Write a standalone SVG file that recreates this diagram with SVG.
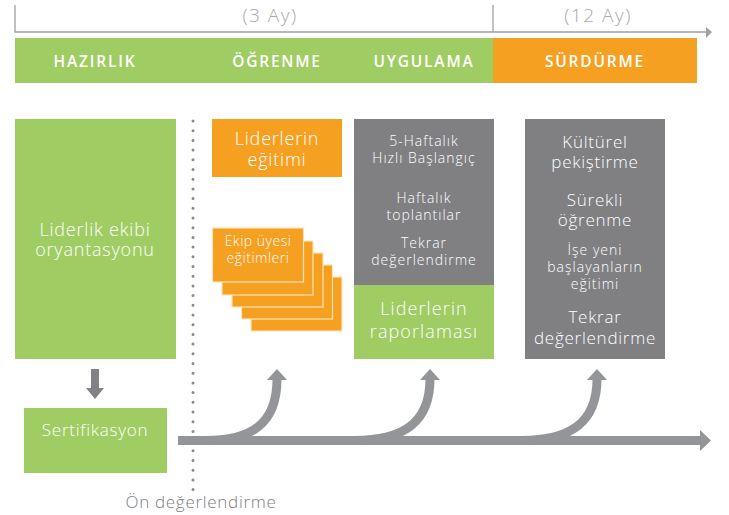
<svg xmlns="http://www.w3.org/2000/svg" width="729" height="515" viewBox="0 0 729 515">
<style>
text{font-family:"Open Sans","Noto Sans","Liberation Sans",sans-serif;font-weight:300;text-anchor:middle;fill:#fff}
.ph{font-size:15.5px;font-weight:600;letter-spacing:1.8px}
.ax{font-size:19px;fill:#a7a9ac;letter-spacing:1.5px}
.t13{font-size:14px;letter-spacing:1px}
.t16{font-size:17px;letter-spacing:0.75px}
.t17{font-size:18px;letter-spacing:0.8px}
.green{fill:#a0cd63}
.orange{fill:#f5a021}
.gray{fill:#808083}
.stk{fill:#f5a021;stroke:#fde3b8;stroke-width:1.2}
.arr{fill:none;stroke:#939598;stroke-width:9}
.ah{fill:#939598}
</style>
<g id="axis">
<path d="M15 5V32H707M493 5V32" fill="none" stroke="#a0a0a0" stroke-width="1.3"/>
<path d="M706 27L712 32L706 38Z" fill="#a0a0a0"/>
<text class="ax" x="270" y="22">(3 Ay)</text>
<text class="ax" x="598" y="22">(12 Ay)</text>
</g>
<g id="phases">
<rect class="green" x="15" y="38" width="478" height="45"/>
<rect class="orange" x="493" y="38" width="204" height="45"/>
<text class="ph" x="95" y="67">HAZIRLIK</text>
<text class="ph" x="277" y="67">ÖĞRENME</text>
<text class="ph" x="424" y="67">UYGULAMA</text>
<text class="ph" x="595" y="67">SÜRDÜRME</text>
</g>
<g id="liderlik-ekibi">
<rect class="green" x="15" y="119" width="161" height="240"/>
<text class="t17" x="95" y="236">Liderlik ekibi</text>
<text class="t17" x="95" y="256">oryantasyonu</text>
</g>
<g id="sertifikasyon">
<rect class="green" x="24" y="408" width="143" height="65"/>
<text class="t16" x="95" y="436">Sertifikasyon</text>
</g>
<g id="on-degerlendirme">
<line x1="193" y1="121" x2="193" y2="492" stroke="#8a8a8c" stroke-width="3" stroke-linecap="round" stroke-dasharray="0 9.7"/>
<text x="201" y="508" style="font-size:17px;letter-spacing:0.7px;fill:#7d7d7f">Ön değerlendirme</text>
</g>
<g id="liderlerin-egitimi">
<rect class="orange" x="212" y="119" width="130" height="58"/>
<text class="t17" x="277" y="145">Liderlerin</text>
<text class="t17" x="277" y="166">eğitimi</text>
</g>
<g id="ekip-uyesi">
<rect class="stk" x="251" y="277" width="91" height="54"/>
<rect class="stk" x="241.5" y="265" width="91" height="54"/>
<rect class="stk" x="232" y="253" width="91" height="54"/>
<rect class="stk" x="222" y="241" width="91" height="54"/>
<rect class="stk" x="212.5" y="228" width="91" height="54"/>
<text x="258" y="246" style="font-size:14px;letter-spacing:0.5px">Ekip üyesi</text>
<text x="258" y="263" style="font-size:14px;letter-spacing:0.5px">eğitimleri</text>
</g>
<g id="uygulama">
<rect class="gray" x="354" y="119" width="140" height="166"/>
<text class="t13" x="424" y="146">5-Haftalık</text>
<text class="t13" x="424" y="163">Hızlı Başlangıç</text>
<text class="t13" x="424" y="203">Haftalık</text>
<text class="t13" x="424" y="220">toplantılar</text>
<text class="t13" x="424" y="248">Tekrar</text>
<text class="t13" x="424" y="265">değerlendirme</text>
</g>
<g id="liderlerin-raporlamasi">
<rect class="green" x="354" y="285" width="140" height="74"/>
<text class="t17" x="424" y="315" style="letter-spacing:1.1px">Liderlerin</text>
<text class="t17" x="424" y="338" style="letter-spacing:1.1px">raporlaması</text>
</g>
<g id="surdurme">
<rect class="gray" x="525" y="119" width="140" height="240"/>
<text class="t16" x="595" y="148">Kültürel</text>
<text class="t16" x="595" y="168">pekiştirme</text>
<text class="t16" x="595" y="206">Sürekli</text>
<text class="t16" x="595" y="226">öğrenme</text>
<text class="t13" x="595" y="255">İşe yeni</text>
<text class="t13" x="595" y="272">başlayanların</text>
<text class="t13" x="595" y="289">eğitimi</text>
<text class="t16" x="595" y="323">Tekrar</text>
<text class="t16" x="595" y="344">değerlendirme</text>
</g>
<g id="connectors">
<path d="M91 369H99V388H104L95 399L86 388H91Z" fill="#808285"/>
<path class="arr" d="M178 440.5H702"/>
<path class="ah" d="M700 430L711 440.5L700 451Z"/>
<path class="arr" d="M205 440.5C250 440.5 277 425 277 379"/>
<path class="ah" d="M267 380L277 369L287 380Z"/>
<path class="arr" d="M355 440.5C400 440.5 430 425 430 379"/>
<path class="ah" d="M420 380L430 369L440 380Z"/>
<path class="arr" d="M522 440.5C567 440.5 597 425 597 379"/>
<path class="ah" d="M587 380L597 369L607 380Z"/>
</g>
</svg>
